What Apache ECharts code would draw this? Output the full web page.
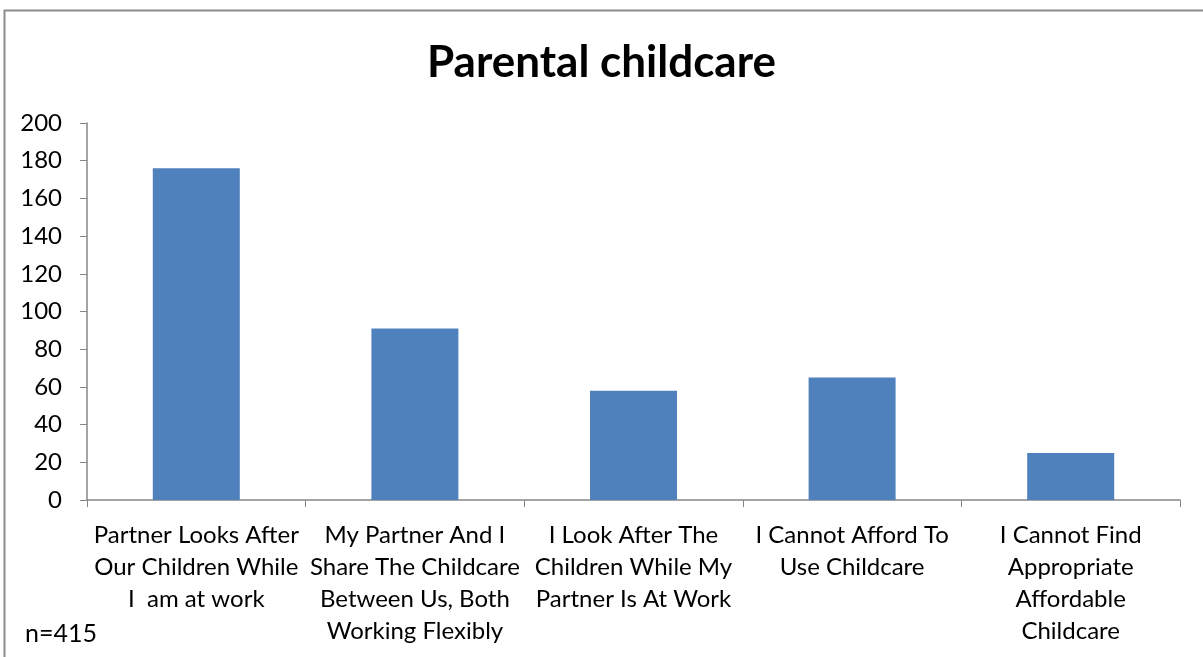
<!DOCTYPE html>
<html>
<head>
<meta charset="utf-8">
<script src="https://cdn.jsdelivr.net/npm/echarts@6/dist/echarts.min.js"></script>
<style>
  html, body { margin: 0; padding: 0; background: #fff; }
  #chart { width: 1203px; height: 657px; }
</style>
</head>
<body>
<div id="chart"></div>
<script>
// data
var categories = [
    'Partner Looks After\nOur Children While\nI  am at work',
    'My Partner And I\nShare The Childcare\nBetween Us, Both\nWorking Flexibly',
    'I Look After The\nChildren While My\nPartner Is At Work',
    'I Cannot Afford To\nUse Childcare',
    'I Cannot Find\nAppropriate\nAffordable\nChildcare'
];
var counts = [176, 91, 58, 65, 25];
var yMin = 0, yMax = 200, yStep = 20;

var font = 'Lato, "Open Sans", sans-serif';
var chart = echarts.init(document.getElementById('chart'));
var option = {
    backgroundColor: '#fff',
    animation: false,
    title: {
        text: 'Parental childcare',
        left: 'center',
        top: 36,
        textStyle: {
            fontFamily: font,
            fontSize: 44,
            fontWeight: 'bold',
            color: '#000'
        }
    },
    graphic: [
        {
            type: 'rect',
            shape: { x: 4.5, y: 10.5, width: 1250, height: 700 },
            style: { fill: null, stroke: '#8c8c8c', lineWidth: 2 }
        },
        {
            type: 'text',
            left: 25,
            top: 621,
            style: { text: 'n=415', font: '25px ' + font, fill: '#000' }
        }
    ],
    grid: { left: 87, right: 23, top: 123, bottom: 157 },
    xAxis: {
        type: 'category',
        data: categories,
        axisLine: { lineStyle: { color: '#868686', width: 1.5 } },
        axisTick: { show: true, length: 7, alignWithLabel: false, lineStyle: { color: '#868686' } },
        axisLabel: {
            interval: 0,
            margin: 19,
            fontFamily: font,
            fontSize: 24,
            lineHeight: 32,
            color: '#000',
            align: 'center'
        }
    },
    yAxis: {
        type: 'value',
        min: yMin,
        max: yMax,
        interval: yStep,
        axisLine: { show: true, lineStyle: { color: '#868686', width: 1.5 } },
        axisTick: { show: true, length: 7, lineStyle: { color: '#868686' } },
        splitLine: { show: false },
        axisLabel: {
            margin: 25,
            fontFamily: font,
            fontSize: 24,
            color: '#000'
        }
    },
    series: [{
        type: 'bar',
        data: counts,
        barWidth: 87,
        itemStyle: { color: '#4F81BD' }
    }]
};
chart.setOption(option);
</script>
</body>
</html>
